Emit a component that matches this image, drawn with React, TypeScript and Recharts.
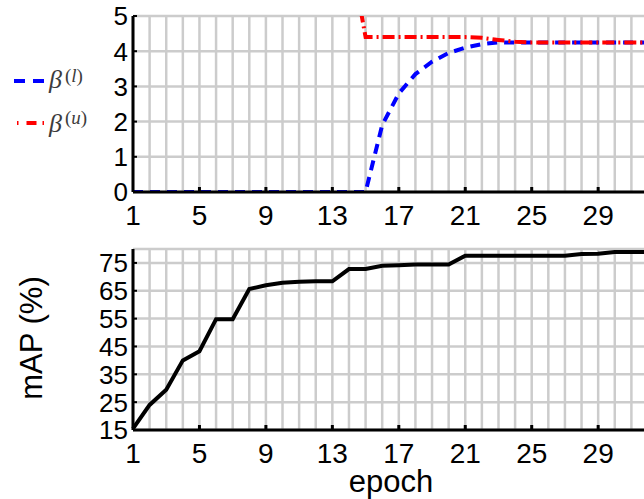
import React from 'react';
import { LineChart, Line, XAxis, YAxis, CartesianGrid, Legend } from 'recharts';

const epochs = [1, 2, 3, 4, 5, 6, 7, 8, 9, 10, 11, 12, 13, 14, 15, 16, 17, 18, 19, 20, 21, 22, 23, 24, 25, 26, 27, 28, 29, 30, 31, 32];
const xLabelTicks = [1, 5, 9, 13, 17, 21, 25, 29];

const betaLower = [0, 0, 0, 0, 0, 0, 0, 0, 0, 0, 0, 0, 0, 0, 0, 1.9, 2.8, 3.35, 3.7, 3.95, 4.1, 4.2, 4.25, 4.25, 4.25, 4.25, 4.25, 4.25, 4.25, 4.25, 4.25, 4.25];
const betaUpper: (number | null)[] = [null, null, null, null, null, null, null, null, null, null, null, null, null, 7, 4.4, 4.4, 4.4, 4.4, 4.4, 4.4, 4.4, 4.38, 4.32, 4.27, 4.25, 4.25, 4.25, 4.25, 4.25, 4.25, 4.25, 4.25];
const mAP = [15.5, 24, 29.5, 40, 43.3, 54.8, 54.8, 65.6, 67, 67.9, 68.2, 68.4, 68.4, 72.8, 72.8, 74, 74.2, 74.4, 74.4, 74.4, 77.6, 77.6, 77.6, 77.6, 77.6, 77.6, 77.6, 78.2, 78.3, 78.9, 78.9, 78.9];

const topYTicks = [0, 1, 2, 3, 4, 5];
const bottomYTicks = [15, 25, 35, 45, 55, 65, 75];

const topData = epochs.map((e, i) => ({ epoch: e, betaLower: betaLower[i], betaUpper: betaUpper[i] }));
const bottomData = epochs.map((e, i) => ({ epoch: e, mAP: mAP[i] }));

const FONT = '"Liberation Sans", Arial, Helvetica, sans-serif';
const SERIF = '"Liberation Serif", "DejaVu Serif", serif';
const GRID = '#cccccc';

const XTick = (props: any) => {
  const { x, y, payload } = props;
  const show = xLabelTicks.includes(payload.value);
  if (!show) return <g />;
  return (
    <g>
      {payload.value !== 1 && (
        <line x1={x} x2={x} y1={y} y2={y - 5} stroke="#000" strokeWidth={3} />
      )}
      <text x={x} y={y + 33} textAnchor="middle" fontSize={28} fontFamily={FONT} fill="#000">
        {payload.value}
      </text>
    </g>
  );
};

const YTick = (props: any) => {
  const { x, y, payload } = props;
  return (
    <g>
      <line x1={x} x2={x + 4} y1={y} y2={y} stroke="#000" strokeWidth={2} />
      <text x={x - 5} y={y} dy="0.36em" textAnchor="end" fontSize={26} fontFamily={FONT} fill="#000">
        {payload.value}
      </text>
    </g>
  );
};

const legendSup: Record<string, string> = { betaLower: 'l', betaUpper: 'u' };
const legendDash: Record<string, string> = { betaLower: '11 8', betaUpper: '1.5 8 10 6' };

const renderLegend = (props: any) => {
  const payload = props.payload || [];
  return (
    <svg width={110} height={150} style={{ display: 'block', overflow: 'visible' }}>
      {payload.map((entry: any, i: number) => {
        const key = entry.dataKey as string;
        const cy = i === 0 ? 81 : 123;
        const x1 = i === 0 ? 14 : 17;
        const base = i === 0 ? 88 : 132;
        const supBase = i === 0 ? 81.5 : 123.5;
        return (
          <g key={key}>
            <line x1={x1} x2={44} y1={cy} y2={cy} stroke={entry.color} strokeWidth={4} strokeDasharray={legendDash[key]} />
            <text x={49} y={base} fontFamily={SERIF} fill="#3c3c3c" fontSize={26} fontStyle="italic">
              {entry.value}
            </text>
            <text x={65} y={supBase} fontFamily={SERIF} fill="#3c3c3c" fontSize={19}>
              <tspan>(</tspan>
              <tspan fontStyle="italic">{legendSup[key]}</tspan>
              <tspan>)</tspan>
            </text>
          </g>
        );
      })}
    </svg>
  );
};

export default function App() {
  return (
    <div style={{ position: 'fixed', left: 0, top: 0, width: 644, height: 499, overflow: 'hidden', background: '#fff' }}>
      <div style={{ position: 'absolute', left: 0, top: 0 }}>
        <LineChart width={660} height={240} data={topData} margin={{ top: 16, right: 12, bottom: 8, left: 93 }}>
          <CartesianGrid stroke={GRID} strokeWidth={2.5} />
          <XAxis
            dataKey="epoch"
            type="number"
            domain={[1, 32]}
            ticks={epochs}
            interval={0}
            height={40}
            tickSize={0}
            tickMargin={0}
            tickLine={false}
            tick={<XTick />}
            axisLine={{ stroke: '#000', strokeWidth: 3 }}
          />
          <YAxis
            type="number"
            domain={[0, 5]}
            ticks={topYTicks}
            interval={0}
            width={40}
            tickSize={0}
            tickMargin={0}
            tickLine={false}
            tick={<YTick />}
            allowDataOverflow
            axisLine={{ stroke: '#000', strokeWidth: 3 }}
          />
          <Legend
            layout="vertical"
            align="center"
            verticalAlign="middle"
            content={renderLegend}
            wrapperStyle={{ left: 0, top: 0, width: 110, height: 150 }}
          />
          <Line
            dataKey="betaLower"
            name="β"
            stroke="#0000ff"
            strokeWidth={4}
            strokeDasharray="10 7"
            dot={false}
            activeDot={false}
            type="linear"
            isAnimationActive={false}
          />
          <Line
            dataKey="betaUpper"
            name="β"
            stroke="#ff0000"
            strokeWidth={4}
            strokeDasharray="12 4 2 4"
            dot={false}
            activeDot={false}
            type="linear"
            isAnimationActive={false}
          />
        </LineChart>
      </div>
      <div style={{ position: 'absolute', left: 0, top: 0 }}>
        <LineChart width={660} height={499} data={bottomData} margin={{ top: 249, right: 12, bottom: 9, left: 93 }}>
          <CartesianGrid stroke={GRID} strokeWidth={2.5} />
          <XAxis
            dataKey="epoch"
            type="number"
            domain={[1, 32]}
            ticks={epochs}
            interval={0}
            height={60}
            tickSize={0}
            tickMargin={0}
            tickLine={false}
            tick={<XTick />}
            axisLine={{ stroke: '#000', strokeWidth: 3 }}
            label={() => (
              <text x={391} y={492} textAnchor="middle" fontSize={31} fontFamily={FONT} fill="#000">
                epoch
              </text>
            )}
          />
          <YAxis
            type="number"
            domain={[15, 80]}
            ticks={bottomYTicks}
            interval={0}
            width={40}
            tickSize={0}
            tickMargin={0}
            tickLine={false}
            tick={<YTick />}
            allowDataOverflow
            axisLine={{ stroke: '#000', strokeWidth: 3 }}
            label={() => (
              <text transform="translate(42 338) rotate(-90)" textAnchor="middle" fontSize={31} fontFamily={FONT} fill="#000">
                mAP (%)
              </text>
            )}
          />
          <Line
            dataKey="mAP"
            stroke="#000"
            strokeWidth={4}
            dot={false}
            activeDot={false}
            type="linear"
            isAnimationActive={false}
          />
        </LineChart>
      </div>
    </div>
  );
}
